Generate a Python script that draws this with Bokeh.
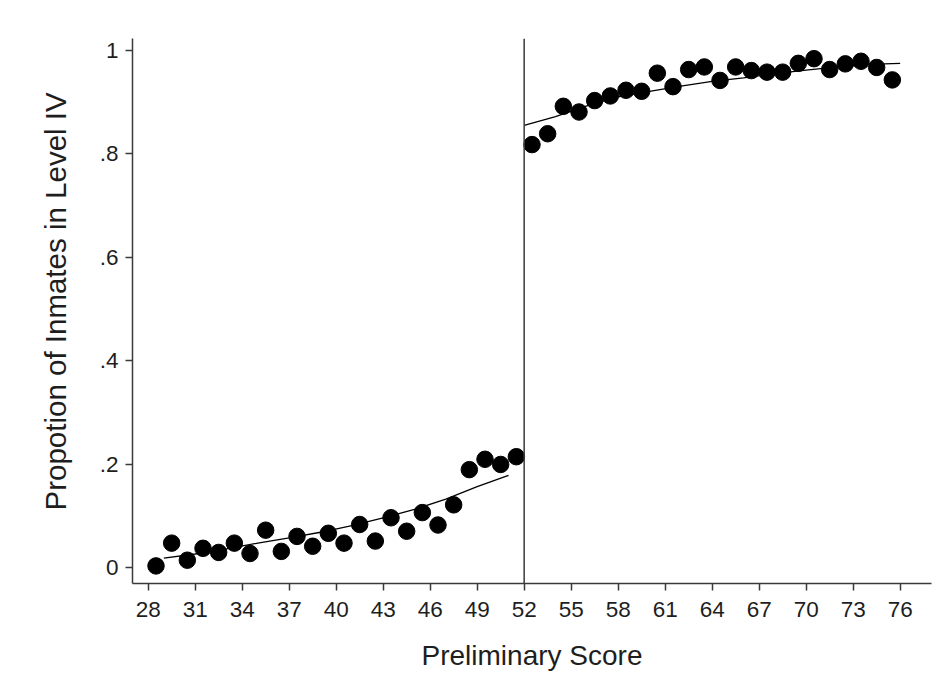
from bokeh.plotting import figure
from bokeh.models import Range1d, FixedTicker, Span, Title
from bokeh.embed import file_html
from bokeh.resources import INLINE

# Binned share of inmates placed in Level IV, by preliminary score
left_x = [28.5, 29.5, 30.5, 31.5, 32.5, 33.5, 34.5, 35.5, 36.5, 37.5, 38.5, 39.5,
          40.5, 41.5, 42.5, 43.5, 44.5, 45.5, 46.5, 47.5, 48.5, 49.5, 50.5, 51.5]
left_y = [0.004, 0.048, 0.015, 0.038, 0.030, 0.048, 0.028, 0.073, 0.032, 0.061, 0.042, 0.067,
          0.048, 0.084, 0.052, 0.097, 0.071, 0.107, 0.083, 0.122, 0.190, 0.210, 0.200, 0.215]

right_x = [52.5, 53.5, 54.5, 55.5, 56.5, 57.5, 58.5, 59.5, 60.5, 61.5, 62.5, 63.5,
           64.5, 65.5, 66.5, 67.5, 68.5, 69.5, 70.5, 71.5, 72.5, 73.5, 74.5, 75.5]
right_y = [0.818, 0.839, 0.892, 0.881, 0.903, 0.912, 0.923, 0.921, 0.956, 0.930, 0.963, 0.968,
           0.942, 0.968, 0.961, 0.958, 0.958, 0.975, 0.984, 0.963, 0.974, 0.979, 0.967, 0.943]

# Fitted curves on each side of the cutoff
fit_left_x = [29, 31, 33, 35, 37, 39, 41, 43, 45, 47, 49, 51]
fit_left_y = [0.019, 0.027, 0.037, 0.048, 0.058, 0.069, 0.082, 0.097, 0.113, 0.133, 0.157, 0.179]
fit_right_x = [52, 54, 56, 58, 60, 62, 64, 66, 68, 70, 72, 74, 76]
fit_right_y = [0.855, 0.872, 0.893, 0.910, 0.921, 0.931, 0.940, 0.947, 0.955, 0.962, 0.968, 0.973, 0.975]

cutoff = 52
x_ticks = [28, 31, 34, 37, 40, 43, 46, 49, 52, 55, 58, 61, 64, 67, 70, 73, 76]
y_ticks = [0, 0.2, 0.4, 0.6, 0.8, 1]
y_tick_labels = ["0", ".2", ".4", ".6", ".8", "1"]
y_title = "Propotion of Inmates in Level IV"

FONT = "Liberation Sans"
INK = "#1e1e1e"
AXIS = "#3a3a3a"

p = figure(width=944, height=696, output_backend="svg", toolbar_location=None,
           x_range=Range1d(27, 78), y_range=Range1d(-0.03, 1.023),
           min_border_left=132, min_border_right=13, min_border_top=38, min_border_bottom=113)
p.outline_line_color = None
p.background_fill_color = "white"
p.border_fill_color = "white"
p.xgrid.visible = False
p.ygrid.visible = False

p.scatter(left_x, left_y, size=16.5, color="black")
p.scatter(right_x, right_y, size=16.5, color="black")
p.line(fit_left_x, fit_left_y, line_width=1.3, color="black")
p.line(fit_right_x, fit_right_y, line_width=1.3, color="black")
p.add_layout(Span(location=cutoff, dimension="height", line_color=AXIS, line_width=1.5))

p.xaxis.ticker = FixedTicker(ticks=x_ticks)
p.yaxis.ticker = FixedTicker(ticks=y_ticks)
p.yaxis.major_label_overrides = {t: s for t, s in zip(y_ticks, y_tick_labels)}
p.xaxis.axis_label = "Preliminary Score"

for ax in (p.xaxis[0], p.yaxis[0]):
    ax.axis_line_color = AXIS
    ax.axis_line_width = 1.5
    ax.major_tick_line_color = AXIS
    ax.major_tick_line_width = 1.5
    ax.major_tick_out = 7
    ax.major_tick_in = 0
    ax.minor_tick_line_color = None
    ax.major_label_text_font = FONT
    ax.major_label_text_font_size = "22.5px"
    ax.major_label_text_color = INK
    ax.axis_label_text_font = FONT
    ax.axis_label_text_font_style = "normal"
    ax.axis_label_text_color = INK

p.xaxis.axis_label_text_font_size = "28px"
p.xaxis.major_label_standoff = 11
p.xaxis.axis_label_standoff = 20
p.yaxis.major_label_standoff = 7
p.yaxis.major_label_orientation = "horizontal"

# Vertical title on the left side, starting a little above the frame's foot
p.add_layout(Title(text=y_title, align="left", offset=73, standoff=50,
                   text_font=FONT, text_font_size="29.5px", text_font_style="normal",
                   text_color=INK), "left")

open("out.html", "w").write(file_html(p, INLINE))
